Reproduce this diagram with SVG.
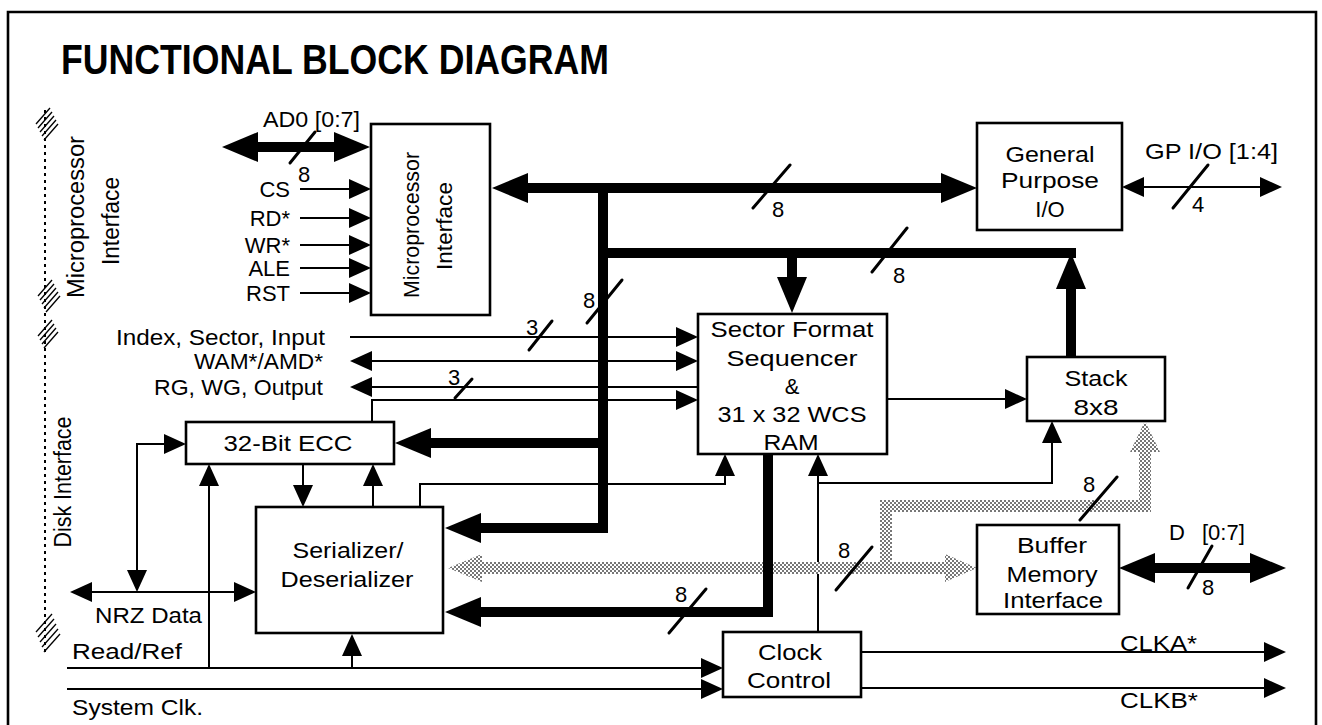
<svg xmlns="http://www.w3.org/2000/svg" width="1322" height="725" viewBox="0 0 1322 725">
<style>
.box{fill:#fff;stroke:#000;stroke-width:2.6}
.ln{fill:none;stroke:#000;stroke-width:2}
.bus{fill:none;stroke:#000;stroke-width:10;stroke-linejoin:miter}
.sl{stroke:#000;stroke-width:3;stroke-linecap:round}
.gr{fill:none;stroke:url(#dots);stroke-width:12;stroke-linejoin:miter}
.t{font-family:"Liberation Sans",Arial,Helvetica,sans-serif;font-size:22px;fill:#000}
.c{text-anchor:middle}
.e{text-anchor:end}
.h{stroke:#000;stroke-width:1.3}
</style>
<defs>
<marker id="ah" viewBox="0 -10 22 20" refX="0" refY="0" markerWidth="22" markerHeight="20" markerUnits="userSpaceOnUse" orient="auto-start-reverse"><path d="M0,-10 L22,0 L0,10 z" fill="#000"/></marker>
<marker id="bh" viewBox="0 -15 36 30" refX="0" refY="0" markerWidth="36" markerHeight="30" markerUnits="userSpaceOnUse" orient="auto-start-reverse"><path d="M0,-15 L36,0 L0,15 z" fill="#000"/></marker>
<pattern id="dots" width="4" height="4" patternUnits="userSpaceOnUse"><rect width="4" height="4" fill="#fff"/><rect width="2" height="2" fill="#777"/><rect x="2" y="2" width="2" height="2" fill="#777"/></pattern>
</defs>

<path d="M8,727 V12 H1316 V727" fill="none" stroke="#000" stroke-width="2.6"/>
<text class="t" x="61" y="74" style="font-size:42px;font-weight:bold" textLength="548" lengthAdjust="spacingAndGlyphs">FUNCTIONAL BLOCK DIAGRAM</text>

<g id="interface-brackets">
<line x1="45" y1="110" x2="45" y2="652" stroke="#000" stroke-width="2" stroke-dasharray="3 4"/>
<g class="h">
<line x1="36" y1="124" x2="50" y2="108"/><line x1="38" y1="128" x2="52" y2="112"/><line x1="40" y1="132" x2="54" y2="116"/><line x1="42" y1="136" x2="56" y2="120"/><line x1="44" y1="140" x2="58" y2="124"/>
<line x1="38" y1="296" x2="52" y2="280"/><line x1="40" y1="300" x2="54" y2="284"/><line x1="42" y1="304" x2="56" y2="288"/><line x1="44" y1="308" x2="58" y2="292"/><line x1="46" y1="312" x2="60" y2="296"/>
<line x1="38" y1="336" x2="52" y2="320"/><line x1="40" y1="340" x2="54" y2="324"/><line x1="42" y1="344" x2="56" y2="328"/><line x1="44" y1="348" x2="58" y2="332"/>
<line x1="36" y1="632" x2="52" y2="614"/><line x1="38" y1="637" x2="54" y2="619"/><line x1="40" y1="642" x2="56" y2="624"/><line x1="42" y1="647" x2="58" y2="629"/><line x1="44" y1="652" x2="60" y2="634"/>
</g>
<text class="t c" transform="translate(84,217) rotate(-90)" style="font-size:23px" textLength="162" lengthAdjust="spacingAndGlyphs">Microprocessor</text>
<text class="t c" transform="translate(119,221) rotate(-90)" style="font-size:23px" textLength="88" lengthAdjust="spacingAndGlyphs">Interface</text>
<text class="t c" transform="translate(71,482) rotate(-90)" style="font-size:23px" textLength="131" lengthAdjust="spacingAndGlyphs">Disk Interface</text>
</g>

<g id="connectors">
<path class="ln" d="M300,189 H349" marker-end="url(#ah)"/>
<path class="ln" d="M300,218 H349" marker-end="url(#ah)"/>
<path class="ln" d="M300,245 H349" marker-end="url(#ah)"/>
<path class="ln" d="M300,268 H349" marker-end="url(#ah)"/>
<path class="ln" d="M300,293 H349" marker-end="url(#ah)"/>
<path class="ln" d="M350,337 H676" marker-end="url(#ah)"/>
<path class="ln" d="M372,361 H676" marker-start="url(#ah)" marker-end="url(#ah)"/>
<path class="ln" d="M372,387 H698" marker-start="url(#ah)"/>
<path class="ln" d="M372,422 V400 H676" marker-end="url(#ah)"/>
<path class="ln" d="M137,570 V444 H164" marker-start="url(#ah)" marker-end="url(#ah)"/>
<path class="ln" d="M92,592 H234" marker-start="url(#ah)" marker-end="url(#ah)"/>
<path class="ln" d="M67,668 H701" marker-end="url(#ah)"/>
<path class="ln" d="M209,668 V486" marker-end="url(#ah)"/>
<path class="ln" d="M352,668 V656" marker-end="url(#ah)"/>
<path class="ln" d="M67,689 H701" marker-end="url(#ah)"/>
<path class="ln" d="M303,464 V485" marker-end="url(#ah)"/>
<path class="ln" d="M373,507 V486" marker-end="url(#ah)"/>
<path class="ln" d="M420,507 V484 H725 V476" marker-end="url(#ah)"/>
<path class="ln" d="M818,632 V476" marker-end="url(#ah)"/>
<path class="ln" d="M818,483 H1052 V443" marker-end="url(#ah)"/>
<path class="ln" d="M887,399 H1005" marker-end="url(#ah)"/>
<path class="ln" d="M1144,187 H1260" marker-start="url(#ah)" marker-end="url(#ah)"/>
<path class="ln" d="M861,652 H1264" marker-end="url(#ah)"/>
<path class="ln" d="M861,688 H1264" marker-end="url(#ah)"/>
<path class="gr" d="M482,568 H945"/>
<path class="gr" d="M886,568 V506 H1145 V452"/>
<polygon points="448,568 482,554 482,582" fill="url(#dots)"/>
<polygon points="977,568 945,554 945,582" fill="url(#dots)"/>
<polygon points="1145,421 1130,452 1160,452" fill="url(#dots)"/>
<path class="bus" d="M258,147 H334" marker-start="url(#bh)" marker-end="url(#bh)"/>
<path class="bus" d="M528,188 H941" marker-start="url(#bh)" marker-end="url(#bh)"/>
<path class="bus" d="M603,188 V528 H481" marker-end="url(#bh)"/>
<path class="bus" d="M598,253 H1076"/>
<path class="bus" d="M1071,357 V289" marker-end="url(#bh)"/>
<path class="bus" d="M792,253 V277" marker-end="url(#bh)"/>
<path class="bus" d="M603,443 H431" marker-end="url(#bh)"/>
<path class="bus" d="M768,454 V612 H481" marker-end="url(#bh)"/>
<path class="bus" d="M1155,568 H1250" marker-start="url(#bh)" marker-end="url(#bh)"/>
<line class="sl" x1="290" y1="163" x2="315" y2="132"/>
<line class="sl" x1="753" y1="208" x2="790" y2="165"/>
<line class="sl" x1="872" y1="272" x2="907" y2="228"/>
<line class="sl" x1="587" y1="323" x2="622" y2="280"/>
<line class="sl" x1="529" y1="350" x2="552" y2="321"/>
<line class="sl" x1="455" y1="398" x2="472" y2="379"/>
<line class="sl" x1="669" y1="633" x2="706" y2="589"/>
<line class="sl" x1="836" y1="590" x2="872" y2="547"/>
<line class="sl" x1="1080" y1="520" x2="1117" y2="477"/>
<line class="sl" x1="1173" y1="208" x2="1208" y2="165"/>
<line class="sl" x1="1188" y1="588" x2="1212" y2="546"/>
</g>

<g id="labels">
<text class="t" x="263" y="127" textLength="97" lengthAdjust="spacingAndGlyphs">AD0 [0:7]</text>
<text class="t" x="298" y="182">8</text>
<text class="t e" x="290" y="197">CS</text>
<text class="t e" x="290" y="226">RD*</text>
<text class="t e" x="290" y="253">WR*</text>
<text class="t e" x="290" y="276">ALE</text>
<text class="t e" x="290" y="301">RST</text>
<text class="t" x="772" y="217">8</text>
<text class="t" x="893" y="283">8</text>
<text class="t" x="583" y="308">8</text>
<text class="t" x="526" y="335">3</text>
<text class="t" x="448" y="385">3</text>
<text class="t" x="675" y="602">8</text>
<text class="t" x="838" y="558">8</text>
<text class="t" x="1083" y="492">8</text>
<text class="t" x="1192" y="212">4</text>
<text class="t" x="1202" y="595">8</text>
<text class="t" x="1145" y="159" textLength="133" lengthAdjust="spacingAndGlyphs">GP I/O [1:4]</text>
<text class="t" y="540"><tspan x="1169">D</tspan><tspan x="1202">[0:7]</tspan></text>
<text class="t" x="1120" y="651" textLength="77" lengthAdjust="spacingAndGlyphs">CLKA*</text>
<text class="t" x="1120" y="708" textLength="78" lengthAdjust="spacingAndGlyphs">CLKB*</text>
<text class="t e" x="325" y="345" textLength="209" lengthAdjust="spacingAndGlyphs">Index, Sector, Input</text>
<text class="t e" x="323" y="369" textLength="129" lengthAdjust="spacingAndGlyphs">WAM*/AMD*</text>
<text class="t e" x="323" y="395" textLength="169" lengthAdjust="spacingAndGlyphs">RG, WG, Output</text>
<text class="t" x="95" y="623" textLength="107" lengthAdjust="spacingAndGlyphs">NRZ Data</text>
<text class="t" x="72" y="659" textLength="110" lengthAdjust="spacingAndGlyphs">Read/Ref</text>
<text class="t" x="72" y="715" textLength="131" lengthAdjust="spacingAndGlyphs">System Clk.</text>
</g>

<g id="node-mpu">
<rect class="box" x="371" y="124" width="119" height="191"/>
<text class="t c" transform="translate(419,225) rotate(-90)" textLength="146" lengthAdjust="spacingAndGlyphs">Microprocessor</text>
<text class="t c" transform="translate(452,226) rotate(-90)" textLength="88" lengthAdjust="spacingAndGlyphs">Interface</text>
</g>
<g id="node-gpio">
<rect class="box" x="977" y="123" width="145" height="107"/>
<text class="t c" x="1050" y="162" textLength="89" lengthAdjust="spacingAndGlyphs">General</text>
<text class="t c" x="1050" y="188" textLength="98" lengthAdjust="spacingAndGlyphs">Purpose</text>
<text class="t c" x="1050" y="217">I/O</text>
</g>
<g id="node-sfs">
<rect class="box" x="698" y="314" width="189" height="140"/>
<text class="t c" x="792" y="337" textLength="163" lengthAdjust="spacingAndGlyphs">Sector Format</text>
<text class="t c" x="792" y="366" textLength="131" lengthAdjust="spacingAndGlyphs">Sequencer</text>
<text class="t c" x="792" y="394">&amp;</text>
<text class="t c" x="792" y="422" textLength="149" lengthAdjust="spacingAndGlyphs">31 x 32 WCS</text>
<text class="t c" x="791" y="450" textLength="55" lengthAdjust="spacingAndGlyphs">RAM</text>
</g>
<g id="node-ecc">
<rect class="box" x="186" y="422" width="208" height="42"/>
<text class="t c" x="288" y="451" textLength="129" lengthAdjust="spacingAndGlyphs">32-Bit ECC</text>
</g>
<g id="node-serdes">
<rect class="box" x="256" y="507" width="187" height="126"/>
<text class="t c" x="348" y="558" textLength="111" lengthAdjust="spacingAndGlyphs">Serializer/</text>
<text class="t c" x="347" y="587" textLength="133" lengthAdjust="spacingAndGlyphs">Deserializer</text>
</g>
<g id="node-stack">
<rect class="box" x="1027" y="357" width="138" height="64"/>
<text class="t c" x="1096" y="386" textLength="63" lengthAdjust="spacingAndGlyphs">Stack</text>
<text class="t c" x="1096" y="415" textLength="45" lengthAdjust="spacingAndGlyphs">8x8</text>
</g>
<g id="node-buffer">
<rect class="box" x="977" y="525" width="142" height="89"/>
<text class="t c" x="1052" y="553" textLength="70" lengthAdjust="spacingAndGlyphs">Buffer</text>
<text class="t c" x="1052" y="582" textLength="91" lengthAdjust="spacingAndGlyphs">Memory</text>
<text class="t c" x="1053" y="608" textLength="100" lengthAdjust="spacingAndGlyphs">Interface</text>
</g>
<g id="node-clock">
<rect class="box" x="723" y="632" width="138" height="65"/>
<text class="t c" x="790" y="660" textLength="64" lengthAdjust="spacingAndGlyphs">Clock</text>
<text class="t c" x="789" y="688" textLength="84" lengthAdjust="spacingAndGlyphs">Control</text>
</g>
</svg>
